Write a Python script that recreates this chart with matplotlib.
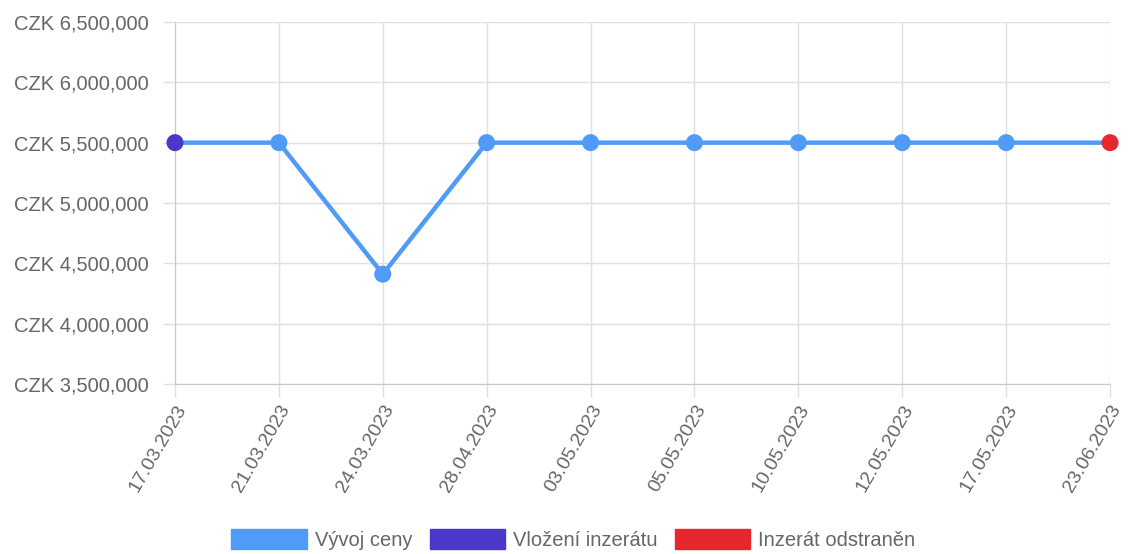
import matplotlib
matplotlib.use("Agg")
import matplotlib.pyplot as plt
from matplotlib.patches import Patch
from matplotlib.ticker import FuncFormatter

dates = ["17.03.2023", "21.03.2023", "24.03.2023", "28.04.2023", "03.05.2023",
         "05.05.2023", "10.05.2023", "12.05.2023", "17.05.2023", "23.06.2023"]
prices = [5500000, 5500000, 4410000, 5500000, 5500000,
          5500000, 5500000, 5500000, 5500000, 5500000]
legend_labels = ["Vývoj ceny", "Vložení inzerátu", "Inzerát odstraněn"]

line_color = "#4f9bf7"
start_color = "#4a38c8"
end_color = "#e8262e"
text_color = "#666666"
grid_color = "#e0e0e0"

plt.rcParams['font.family'] = ['Liberation Sans', 'DejaVu Sans']

fig = plt.figure(figsize=(11.29, 5.54), dpi=100)
ax = fig.add_axes([0.155, 0.3069, 0.9832 - 0.155, 0.9603 - 0.3069])

x = list(range(len(dates)))
ax.plot(x, prices, color=line_color, lw=3.2, zorder=3, clip_on=False)
mcolors = [start_color] + [line_color] * (len(x) - 2) + [end_color]
ax.scatter(x, prices, s=150, c=mcolors, zorder=4, linewidths=0, clip_on=False)

ax.set_xlim(0, len(x) - 1)
ax.set_ylim(3500000, 6500000)
ax.set_yticks([3500000, 4000000, 4500000, 5000000, 5500000, 6000000, 6500000])
ax.yaxis.set_major_formatter(FuncFormatter(lambda v, p: "CZK {:,.0f}".format(v)))
ax.set_xticks(x)
ax.set_xticklabels(dates, rotation=60, ha='right', rotation_mode='anchor')

ax.grid(True, color=grid_color, lw=1)
ax.set_axisbelow(True)
for s in ['top', 'right']:
    ax.spines[s].set_visible(False)
for s in ['left', 'bottom']:
    ax.spines[s].set_color("#c8c8c8")
ax.tick_params(axis='both', colors=grid_color, length=9, width=1, labelcolor=text_color)
ax.tick_params(axis='x', pad=4, labelsize=14)
ax.tick_params(axis='y', pad=10, labelsize=14.5)

handles = [Patch(facecolor=line_color, edgecolor=line_color),
           Patch(facecolor=start_color, edgecolor=start_color),
           Patch(facecolor=end_color, edgecolor=end_color)]
leg = fig.legend(handles, legend_labels, loc='lower center', ncol=3, frameon=False,
                 fontsize=14.5, handlelength=3.75, handleheight=1.2, handletextpad=0.4,
                 columnspacing=0.85, bbox_to_anchor=(0.508, -0.025))
for t in leg.get_texts():
    t.set_color(text_color)

fig.savefig("out.png", dpi=100)
